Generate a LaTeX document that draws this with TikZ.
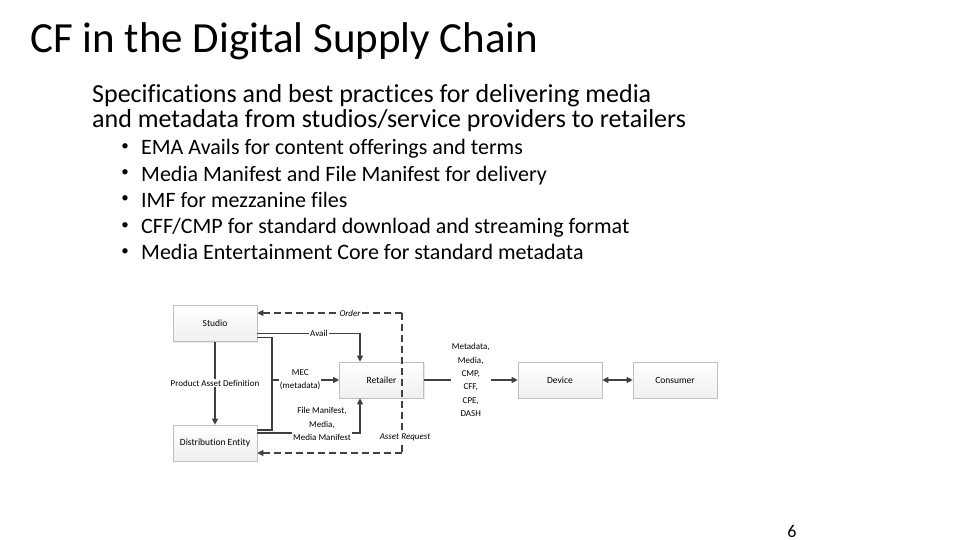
\documentclass[tikz,border=0pt]{standalone}
\usepackage{fontspec}
\setmainfont{Carlito}[Ligatures=NoCommon]
\usetikzlibrary{arrows.meta,shadows}
\definecolor{lineg}{HTML}{404040}
\definecolor{boxb}{HTML}{BFBFBF}
\tikzset{
  box/.style={draw=boxb, line width=0.6pt, top color=white, bottom color=gray!12,
    minimum width=84pt, minimum height=36pt, inner sep=0pt,
    font=\fontsize{9.5}{11}\selectfont, text=black,
    drop shadow={opacity=0.18, shadow xshift=1.2pt, shadow yshift=-1.2pt}},
  conn/.style={draw=lineg, line width=1.2pt},
  dsh/.style={conn, dash pattern=on 7pt off 4pt},
  arr/.style={conn, -{Triangle[length=6pt,width=6pt]}},
  darr/.style={dsh, -{Triangle[length=6pt,width=6pt]}},
  lbl/.style={font=\fontsize{9}{13.3}\selectfont, fill=white, inner sep=1pt, align=center, text=black},
  ilbl/.style={lbl, font=\fontsize{9}{11}\selectfont\itshape},
  bul/.style={anchor=base west, font=\fontsize{22}{26}\selectfont, inner sep=0pt},
  sub/.style={anchor=base west, font=\fontsize{26}{28}\selectfont, inner sep=0pt},
  dot/.style={anchor=base, font=\fontsize{15}{18}\selectfont, inner sep=0pt}
}
\begin{document}
\begin{tikzpicture}[x=1pt,y=-1pt]
\useasboundingbox[fill=white] (0,0) rectangle (960,540);

\node[anchor=base west, inner sep=0pt, font=\fontsize{43}{46}\selectfont] (title) at (30,52.5) {CF in the Digital Supply Chain};

\node[sub] (s1) at (92,103) {Specifications and best practices for delivering media};
\node[sub] (s2) at (92,128) {and metadata from studios/service providers to retailers};

\foreach \i/\t in {0/{EMA Avails for content offerings and terms},
                   1/{Media Manifest and File Manifest for delivery},
                   2/{IMF for mezzanine files},
                   3/{CFF/CMP for standard download and streaming format},
                   4/{Media Entertainment Core for standard metadata}}{
  \node[dot] (d\i) at (125,150.5+26.2*\i) {•};
  \node[bul] (b\i) at (141,155+26.2*\i) {\t};
}

% diagram boxes
\node[box] (studio) at (215,323.5) {Studio};
\node[box] (dist) at (215,443) {Distribution Entity};
\node[box] (retailer) at (381.5,380) {Retailer};
\node[box] (device) at (560,380) {Device};
\node[box] (consumer) at (675,380) {Consumer};

% studio -> distribution
\draw[arr] (studio.south) -- (dist.north) node[midway, lbl] {Product Asset Definition};

% order / asset request
\coordinate (otr) at (402,313);
\coordinate (obr) at (402,453);
\draw[darr] (otr) -- (studio.east |- otr);
\draw[dsh] (otr) -- (obr);
\draw[darr] (obr) -- (dist.east |- obr);
\node[ilbl] (order) at (350,313) {Order};
\node[ilbl] (areq) at (405,437) {Asset Request};

% avail
\draw[arr] ([yshift=-10pt]studio.east) -| ([xshift=-21.5pt]retailer.north) node[pos=0.3, lbl] {Avail};

% MEC bracket
\coordinate (mecmid) at (272,380);
\draw[conn] ([yshift=-14pt]studio.east) -| (mecmid) |- ([yshift=13pt]dist.east);
\draw[arr] (mecmid) -- (retailer.west) node[pos=0.42, lbl] {MEC\\(metadata)};

% file manifest
\draw[arr] ([yshift=10pt]dist.east) -| ([xshift=-21.5pt]retailer.south);
\node[lbl] (fm) at (322,424) {File Manifest,\\Media,\\Media Manifest};

% retailer -> device
\draw[arr] (retailer.east) -- (device.west) node[midway, lbl] {Metadata,\\Media,\\CMP,\\CFF,\\CPE,\\DASH};

% device <-> consumer
\draw[conn, {Triangle[length=6pt,width=6pt]}-{Triangle[length=6pt,width=6pt]}] (device.east) -- (consumer.west);

\node[anchor=base, inner sep=0pt, font=\fontsize{18}{20}\selectfont] (pg) at (792,537) {6};
\end{tikzpicture}
\end{document}
